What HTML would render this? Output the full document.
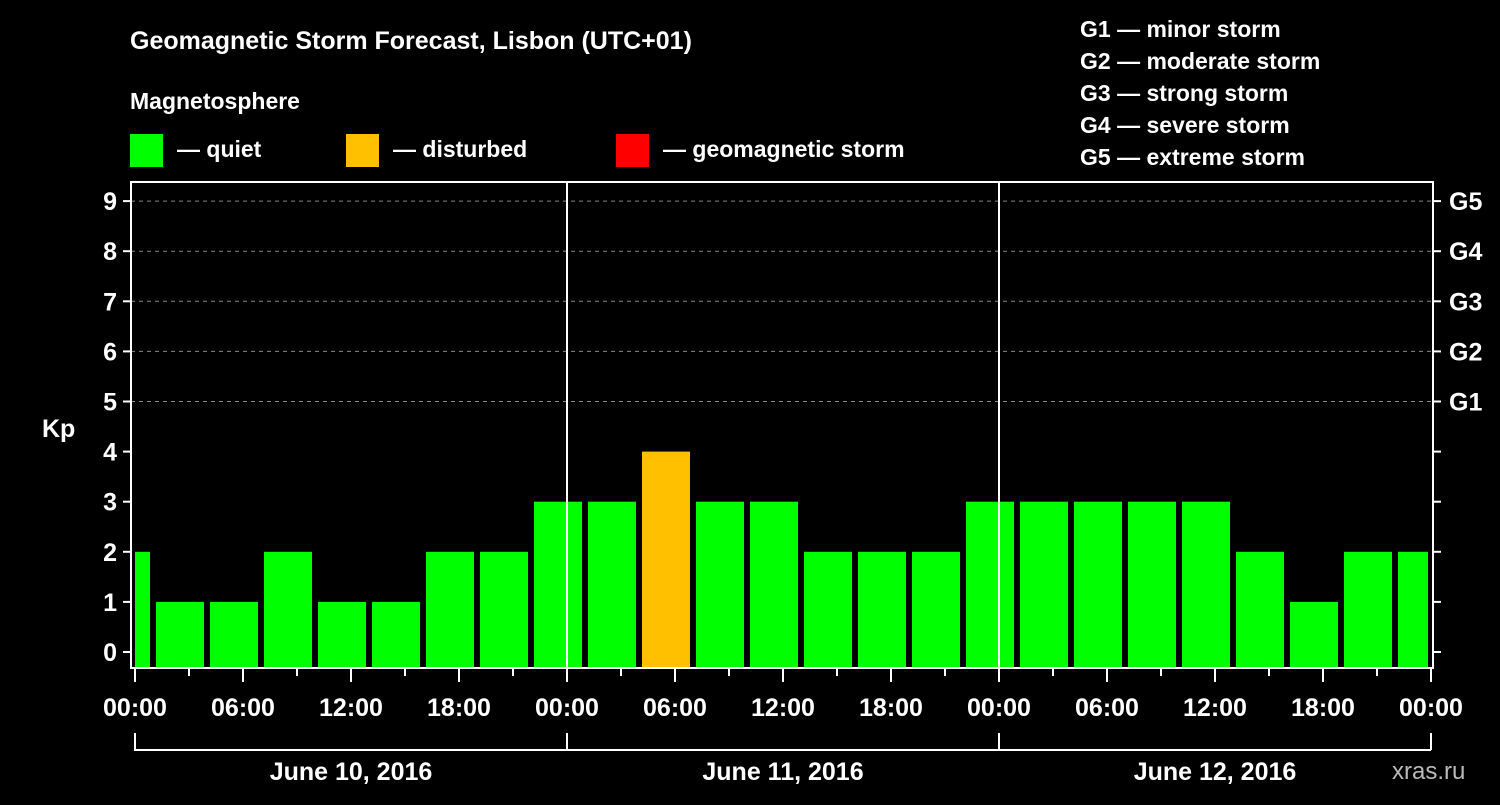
<!DOCTYPE html>
<html><head><meta charset="utf-8"><style>
body{margin:0;background:#000;width:1500px;height:800px;overflow:hidden}
svg text{font-family:"Liberation Sans",Arial,sans-serif;font-weight:bold;fill:#fff}
</style></head><body>
<svg width="1500" height="800" viewBox="0 0 1500 800" xmlns="http://www.w3.org/2000/svg">
<rect width="1500" height="800" fill="#000"/>
<text x="130" y="49" font-size="25">Geomagnetic Storm Forecast, Lisbon (UTC+01)</text>
<text x="130" y="109" font-size="23">Magnetosphere</text>
<g>
<rect x="130" y="134" width="33" height="33" fill="#00ff00"/>
<text x="177" y="157" font-size="23">— quiet</text>
<rect x="346" y="134" width="33" height="33" fill="#ffc000"/>
<text x="393" y="157" font-size="23">— disturbed</text>
<rect x="616" y="134" width="33" height="33" fill="#ff0000"/>
<text x="663" y="157" font-size="23">— geomagnetic storm</text>
</g>
<g font-size="23">
<text x="1080" y="37">G1 — minor storm</text>
<text x="1080" y="69">G2 — moderate storm</text>
<text x="1080" y="101">G3 — strong storm</text>
<text x="1080" y="133">G4 — severe storm</text>
<text x="1080" y="165">G5 — extreme storm</text>
</g>
<text x="42" y="437" font-size="25">Kp</text>
<text x="1392" y="779" font-size="24" fill="#bbb" style="fill:#bbb;font-weight:normal">xras.ru</text>
<g id="grid"></g>
<g id="bars"></g>
<g id="axes"></g>
</svg>
<script>
const kpValues=[2,1,1,2,1,1,2,2,3,3,4,3,3,2,2,2,3,3,3,3,3,2,1,2,2];
const gLabels=["G1","G2","G3","G4","G5"];
const timeLabels=["00:00","06:00","12:00","18:00"];
const dayLabels=["June 10, 2016","June 11, 2016","June 12, 2016"];
const utcOffsetHours=1;
const NS="http://www.w3.org/2000/svg";
const x0=135, pxPerHour=18, plotL=131, plotR=1433, plotT=182, plotB=668;
const y=v=>652-v*50.1;
const x=h=>x0+h*pxPerHour;
function mk(tag,attrs,parent){const e=document.createElementNS(NS,tag);for(const k in attrs)e.setAttribute(k,attrs[k]);document.getElementById(parent).appendChild(e);return e;}
// grid
for(let v=5;v<=9;v++){const l=mk('line',{x1:plotL,x2:plotR,y1:y(v),y2:y(v),stroke:'#888','stroke-dasharray':'4,4','stroke-width':1},'grid');
}
// bars
kpValues.forEach((v,i)=>{
 let a=x(i*3-2+utcOffsetHours*0)+3; // interval start shifted by UTC offset
 a=x(i*3-3+utcOffsetHours)+3; let b=a+48;
 a=Math.max(a,x0); b=Math.min(b,1428);
 const c=v>=5?'#ff0000':(v>=4?'#ffc000':'#00ff00');
 const r=mk('rect',{x:a,y:y(v),width:b-a,height:plotB-1-y(v),fill:c},'bars');
 
});
// frame
const f=mk('rect',{x:plotL,y:plotT,width:plotR-plotL,height:plotB-plotT,fill:'none',stroke:'#fff','stroke-width':2},'axes');

for(let d=1;d<3;d++){const l=mk('line',{x1:x(d*24),x2:x(d*24),y1:plotT,y2:plotB,stroke:'#fff','stroke-width':2},'axes');
}
// y ticks
for(let v=0;v<=9;v++){
 mk('line',{x1:plotL-8,x2:plotL,y1:y(v),y2:y(v),stroke:'#fff','stroke-width':2},'axes');
 mk('line',{x1:plotR,x2:plotR+8,y1:y(v),y2:y(v),stroke:'#fff','stroke-width':2},'axes');
 const t=mk('text',{x:plotL-14,y:y(v)+9,'font-size':25,'text-anchor':'end'},'axes');t.textContent=v;
 
}
gLabels.forEach((g,i)=>{const t=mk('text',{x:1449,y:y(i+5)+9,'font-size':25},'axes');t.textContent=g;
 });
// x ticks
for(let h=0;h<=72;h+=3){const major=h%6===0;
 mk('line',{x1:x(h),x2:x(h),y1:plotB,y2:plotB+(major?14:8),stroke:'#fff','stroke-width':2},'axes');
 if(major){const t=mk('text',{x:x(h),y:716,'font-size':25,'text-anchor':'middle'},'axes');t.textContent=timeLabels[(h/6)%4];
 }}
// day brackets
dayLabels.forEach((d,i)=>{const a=x(i*24),b=x(i*24+24);
 mk('path',{d:`M${a},733V750H${b}`,stroke:'#fff','stroke-width':2,fill:'none'},'axes');
 if(i===2)mk('line',{x1:b,x2:b,y1:733,y2:750,stroke:'#fff','stroke-width':2},'axes');
 const t=mk('text',{x:(a+b)/2,y:780,'font-size':25,'text-anchor':'middle'},'axes');t.textContent=d;
 });
</script>
</body></html>
